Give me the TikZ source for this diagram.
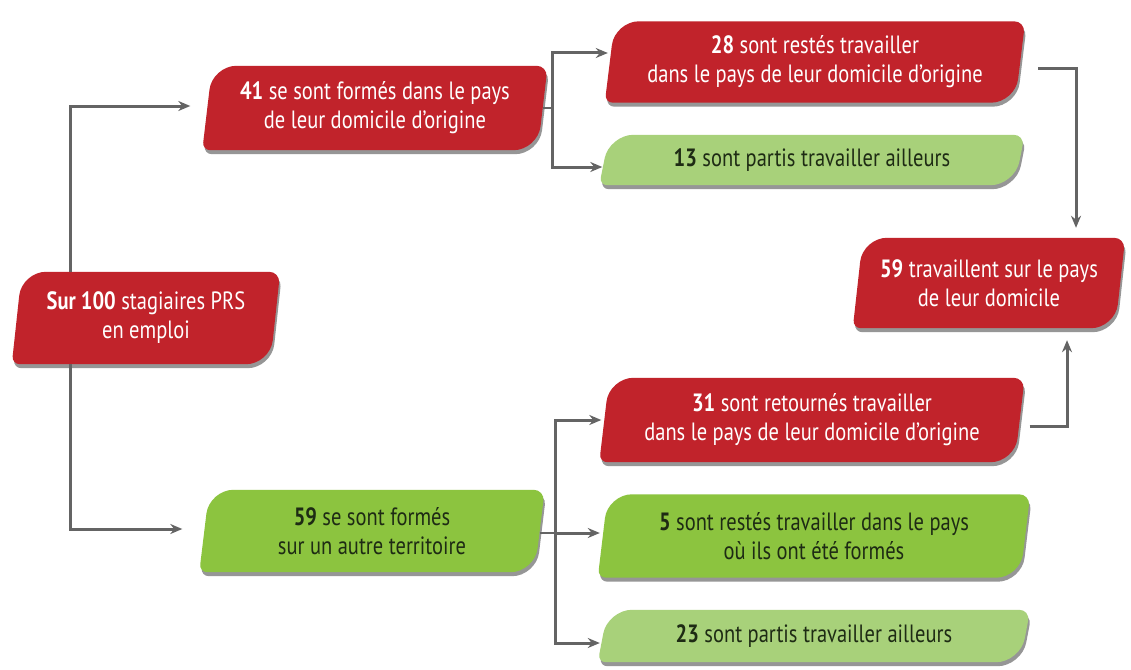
\documentclass[tikz,border=0pt]{standalone}
\usepackage{fontspec}
\setmainfont{PT Sans}[FakeStretch=0.82]
\usetikzlibrary{calc,shadows,backgrounds,arrows.meta}

\definecolor{prsred}{HTML}{C1232B}
\definecolor{prsgreen}{HTML}{8CC43F}
\definecolor{prslight}{HTML}{A8D17A}
\definecolor{prsdark}{HTML}{1E2B14}
\definecolor{prsgray}{HTML}{646464}

\tikzset{
  box/.style={inner sep=0pt, align=center, font=\fontsize{25}{29}\selectfont},
  onred/.style={box, text=white},
  ongreen/.style={box, text=prsdark},
  arr/.style={draw=prsgray, line width=3pt, -{Stealth[length=12pt,width=10pt]}},
  stub/.style={draw=prsgray, line width=2pt},
  leafshadow/.style={drop shadow={shadow xshift=1.5pt, shadow yshift=-4pt, opacity=0.55, fill=black!75}},
}

% slanted box, big rounding top left and bottom right
\newcommand\leaf[2]{%
  \coordinate (tl) at ([xshift=5pt]#1.north west);
  \coordinate (tr) at ([xshift=5pt]#1.north east);
  \coordinate (br) at ([xshift=-5pt]#1.south east);
  \coordinate (bl) at ([xshift=-5pt]#1.south west);
  \fill[#2, leafshadow] ($(bl)!8pt!(tl)$) -- ($(tl)!24pt!(bl)$)
      .. controls ($(tl)!11pt!(bl)$) and ($(tl)!11pt!(tr)$) .. ($(tl)!24pt!(tr)$)
    -- ($(tr)!11pt!(tl)$)
      .. controls ($(tr)!5pt!(tl)$) and ($(tr)!5pt!(br)$) .. ($(tr)!11pt!(br)$)
    -- ($(br)!24pt!(tr)$)
      .. controls ($(br)!11pt!(tr)$) and ($(br)!11pt!(bl)$) .. ($(br)!24pt!(bl)$)
    -- ($(bl)!8pt!(br)$)
      .. controls ($(bl)!3.6pt!(br)$) and ($(bl)!3.6pt!(tl)$) .. ($(bl)!8pt!(tl)$) -- cycle;
}

\begin{document}
\begin{tikzpicture}[x=1pt, y=-1pt]
  \useasboundingbox (0,0) rectangle (1131,669);

  \node[onred, minimum width=258pt, minimum height=92pt] (root) at (146,318)
    {\textbf{Sur 100} stagiaires PRS\\en emploi};

  \node[onred, minimum width=335pt, minimum height=84pt] (n41) at (375,108)
    {\textbf{41} se sont formés dans le pays\\de leur domicile d'origine};
  \node[ongreen, minimum width=335pt, minimum height=82pt] (n59f) at (372,531)
    {\textbf{59} se sont formés\\sur un autre territoire};

  \node[onred, minimum width=410pt, minimum height=81pt] (n28) at (815,62)
    {\textbf{28} sont restés travailler\\dans le pays de leur domicile d'origine};
  \node[ongreen, minimum width=415pt, minimum height=50pt] (n13) at (812,160)
    {\textbf{13} sont partis travailler ailleurs};

  \node[onred, minimum width=262pt, minimum height=90pt] (n59w) at (989,283)
    {\textbf{59} travaillent sur le pays\\de leur domicile};

  \node[onred, minimum width=415pt, minimum height=84pt] (n31) at (812,420)
    {\textbf{31} sont retournés travailler\\dans le pays de leur domicile d'origine};
  \node[ongreen, minimum width=422pt, minimum height=83pt] (n5) at (814,536)
    {\textbf{5} sont restés travailler dans le pays\\où ils ont été formés};
  \node[ongreen, minimum width=422pt, minimum height=52pt] (n23) at (814,636)
    {\textbf{23} sont partis travailler ailleurs};

  \begin{scope}[on background layer]
    \fill[white] (0,0) rectangle (1131,669);
    \leaf{root}{prsred}
    \leaf{n41}{prsred}
    \leaf{n59f}{prsgreen}
    \leaf{n28}{prsred}
    \leaf{n13}{prslight}
    \leaf{n59w}{prsred}
    \leaf{n31}{prsred}
    \leaf{n5}{prsgreen}
    \leaf{n23}{prslight}
  \end{scope}

  % first split
  \draw[arr, shorten >=17pt] ([xshift=-76pt]root.north) |- ([yshift=2pt]n41.west);
  \draw[arr, shorten >=22pt] ([xshift=-76pt]root.south) |- ([yshift=2pt]n59f.west);

  % trained at home
  \draw[stub] (n41.east) -- ++(10,0) coordinate (j41);
  \draw[arr, shorten >=2pt] (j41) |- ([yshift=9pt]n28.west);
  \draw[arr, shorten >=2pt] (j41) |- ([yshift=-7pt]n13.west);

  % trained elsewhere
  \draw[stub] ([yshift=-2pt]n59f.east) -- ++(16,0) coordinate (j59);
  \draw[arr, shorten >=3pt] (j59) |- (n31.west);
  \draw[arr, shorten >=3pt] (j59) -- (j59 -| n5.west);
  \draw[arr, shorten >=3pt] (j59) |- ([yshift=-7pt]n23.west);

  % back to home country
  \draw[arr, shorten <=18pt, shorten >=10pt] ([yshift=-6pt]n28.east) -| ([xshift=87pt]n59w.north);
  \draw[arr, shorten <=10pt, shorten >=12pt] ([yshift=-6pt]n31.east) -| ([xshift=78pt]n59w.south);
\end{tikzpicture}
\end{document}
